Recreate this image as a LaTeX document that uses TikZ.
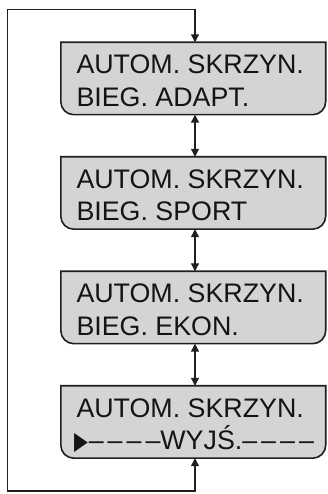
\documentclass[tikz,border=0pt]{standalone}
\usepackage{fontspec}
\usepackage{graphicx}
\setmainfont{Liberation Sans}
\newfontfamily\symf{DejaVu Sans}
\usetikzlibrary{arrows.meta}
\newcommand\dsh{–\kern4pt–\kern4pt–\kern4pt–}
\tikzset{
  boxshape/.style={rectangle, minimum width=264.5pt, minimum height=72pt, inner sep=0pt},
  boxline/.style={draw=black!88, line width=1.6pt, fill=black!17},
  lbl/.style={anchor=base west, inner sep=0pt, text=black!92, font=\fontsize{26.8}{32}\selectfont},
  conn/.style={draw=black!88, line width=1.1pt},
  tip/.tip={Triangle[length=8pt,width=8pt]}
}
\newcommand\boxoutline[1]{%
  \draw[boxline] (#1.north west) -- (#1.north east) -- ([yshift=13pt]#1.south east)
    arc[start angle=0, end angle=-90, radius=13pt] -- ([xshift=13pt]#1.south west)
    arc[start angle=270, end angle=180, radius=13pt] -- cycle;}
\begin{document}
\begin{tikzpicture}[x=1pt,y=1pt]
\useasboundingbox (0,0) rectangle (327,494);
\node[boxshape] (b1) at (193.25,415.5) {};
\node[boxshape] (b2) at (193.25,301) {};
\node[boxshape] (b3) at (193.25,186.5) {};
\node[boxshape] (b4) at (193.25,72) {};
\boxoutline{b1}\boxoutline{b2}\boxoutline{b3}\boxoutline{b4}
\node[lbl] (t1a) at ([shift={(15.5,-31.5)}]b1.north west) {AUTOM. SKRZYN.};
\node[lbl] (t1b) at ([shift={(15.5,-64)}]b1.north west) {BIEG. ADAPT.};
\node[lbl] (t2a) at ([shift={(15.5,-31.5)}]b2.north west) {AUTOM. SKRZYN.};
\node[lbl] (t2b) at ([shift={(15.5,-64)}]b2.north west) {BIEG. SPORT};
\node[lbl] (t3a) at ([shift={(15.5,-31.5)}]b3.north west) {AUTOM. SKRZYN.};
\node[lbl] (t3b) at ([shift={(15.5,-64)}]b3.north west) {BIEG. EKON.};
\node[lbl] (t4a) at ([shift={(15.5,-31.5)}]b4.north west) {AUTOM. SKRZYN.};
\node[lbl] (t4b) at ([shift={(13,-64)}]b4.north west) {\scalebox{0.72}[1]{\symf\fontsize{25}{25}\selectfont ▶}\kern1pt\dsh WYJŚ.\dsh};
\coordinate (bl) at (7.5,3);
\coordinate (tl) at (7.5,484.5);
\coordinate (tr) at (195,484.5);
\coordinate (br) at (195,3);
\draw[conn,{tip}-{tip}] (br |- b4.south) -- (br) -- (bl) -- (tl) -- (tr) -- (tr |- b1.north);
\draw[conn,{tip}-{tip}] (b1.south -| tr) -- (b2.north -| tr);
\draw[conn,{tip}-{tip}] (b2.south -| tr) -- (b3.north -| tr);
\draw[conn,{tip}-{tip}] (b3.south -| tr) -- (b4.north -| tr);
\end{tikzpicture}
\end{document}
